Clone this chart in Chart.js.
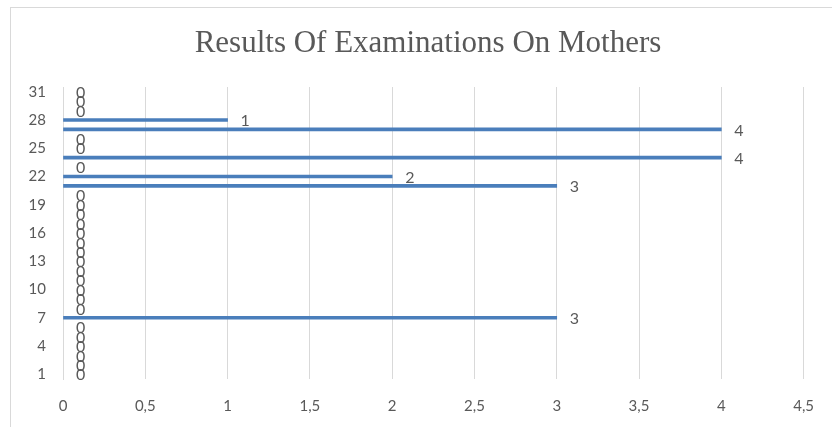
<!DOCTYPE html>
<html>
<head>
<meta charset="utf-8">
<script src="https://cdn.jsdelivr.net/npm/chart.js@4"></script>
<style>
  body { margin: 0; background: #fff; }
  #wrap { position: relative; width: 832px; height: 427px; }
  #frame { position: absolute; left: 10px; top: 7px; width: 830px; height: 430px; border: 1px solid #d9d9d9; box-sizing: border-box; }
  canvas { position: absolute; left: 0; top: 0; }
</style>
</head>
<body>
<div id="wrap">
  <div id="frame"></div>
  <canvas id="chart" width="832" height="427"></canvas>
</div>
<script>
// datos del gráfico
const categorias = ['1','2','3','4','5','6','7','8','9','10','11','12','13','14','15','16',
  '17','18','19','20','21','22','23','24','25','26','27','28','29','30','31'];
const valores = [0,0,0,0,0,0,3,0,0,0,0,0,0,0,0,0,0,0,0,0,3,2,0,4,0,0,4,1,0,0,0];
const titulo = 'Results Of Examinations On Mothers';

const gris = '#595959';

// título centrado sobre el marco, y etiquetas de valor al final de cada barra
const etiquetas = {
  id: 'etiquetas',
  afterDraw(chart) {
    const ctx = chart.ctx;
    ctx.save();
    ctx.font = '31px "Liberation Serif"';
    ctx.fillStyle = gris;
    ctx.textAlign = 'center';
    ctx.textBaseline = 'middle';
    ctx.fillText(titulo, 428, 44);
    ctx.restore();
  },
  afterDatasetsDraw(chart) {
    const ctx = chart.ctx;
    const meta = chart.getDatasetMeta(0);
    ctx.save();
    ctx.font = '16px Lato';
    ctx.fillStyle = gris;
    ctx.textAlign = 'left';
    ctx.textBaseline = 'middle';
    meta.data.forEach((bar, i) => {
      ctx.fillText(String(valores[i]), bar.x + 13, bar.y + 1);
    });
    ctx.restore();
  }
};

new Chart(document.getElementById('chart'), {
  type: 'bar',
  data: {
    labels: categorias,
    datasets: [{
      data: valores,
      backgroundColor: c => (valores[c.dataIndex] === 0 ? 'rgba(0,0,0,0)' : '#4A7EBB'),
      barThickness: 3
    }]
  },
  options: {
    indexAxis: 'y',
    responsive: false,
    animation: false,
    layout: { padding: { left: 0, right: 25, top: 87, bottom: 0 } },
    plugins: {
      legend: { display: false },
      tooltip: { enabled: false },
      title: { display: false }
    },
    scales: {
      x: {
        min: 0,
        max: 4.5,
        ticks: {
          stepSize: 0.5,
          color: gris,
          padding: 18,
          font: { family: 'Lato', size: 15 },
          callback: v => String(v).replace('.', ',')
        },
        grid: { color: '#d9d9d9', drawTicks: false },
        border: { display: false },
        afterFit: s => { s.height = 48; }
      },
      y: {
        reverse: true,
        ticks: {
          autoSkip: false,
          color: gris,
          padding: 17,
          font: { family: 'Lato', size: 15 },
          callback: function (v, i) { return i % 3 === 0 ? this.getLabelForValue(v) : ''; }
        },
        grid: { display: false, drawTicks: false },
        border: { display: true, color: '#d9d9d9' },
        afterFit: s => { s.width = 63; }
      }
    }
  },
  plugins: [etiquetas]
});
</script>
</body>
</html>
